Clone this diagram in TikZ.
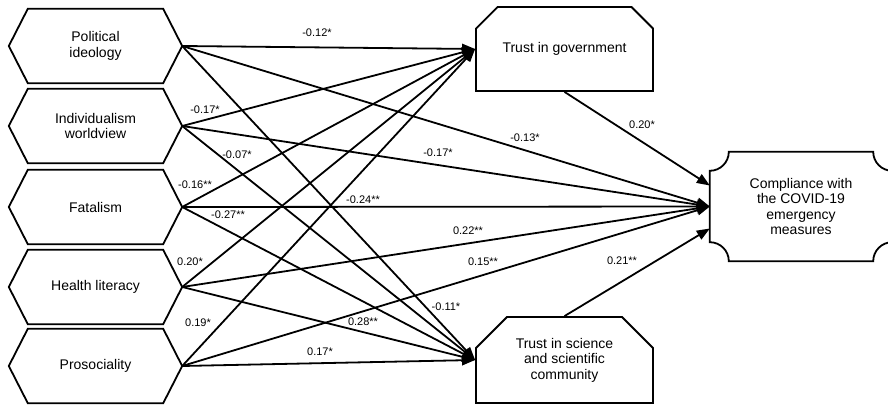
\documentclass[tikz,border=0pt]{standalone}
\usepackage{fontspec}
\setmainfont{Liberation Sans}
\usetikzlibrary{arrows.meta,calc,shapes.misc}
\begin{document}
\begin{tikzpicture}[x=1pt,y=1pt,
  boxfont/.style={font=\fontsize{14}{15.5}\selectfont},
  hexnode/.style={boxfont,minimum width=173pt,minimum height=74pt,inner sep=0pt,align=center},
  hexline/.style={line width=1.8pt,line join=miter},
  trustbox/.style={boxfont,chamfered rectangle,chamfered rectangle corners={north west,north east},
    chamfered rectangle xsep=16pt,chamfered rectangle ysep=15pt,draw,line width=1.8pt,
    minimum width=177pt,inner sep=0pt,align=center},
  plaquenode/.style={boxfont,minimum width=182pt,minimum height=109pt,inner sep=0pt,align=center},
  arr/.style={line width=1.8pt,-{Triangle[length=13pt,width=10pt]}},
  lab/.style={font=\fontsize{11}{12}\selectfont,inner sep=0pt}]
\useasboundingbox (0,0) rectangle (888,404);

% left hexagons
\node[hexnode] (P) at (95.5,358) {Political\\ideology};
\node[hexnode] (I) at (95.5,278) {Individualism\\worldview};
\node[hexnode] (F) at (95.5,197) {Fatalism};
\node[hexnode] (H) at (95.5,117) {Health literacy};
\node[hexnode] (S) at (95.5,38) {Prosociality};
\foreach \n in {P,I,F,H,S}{
  \draw[hexline] (\n.west) -- ($(\n.north west)+(19,0)$) -- ($(\n.north east)+(-19,0)$)
    -- (\n.east) -- ($(\n.south east)+(-19,0)$) -- ($(\n.south west)+(19,0)$) -- cycle;
}

% trust boxes
\node[trustbox,minimum height=84pt] (TG) at (564.5,355) {Trust in government};
\node[trustbox,minimum height=86pt] (TS) at (564.5,44) {Trust in science\\and scientific\\community};

% compliance plaque
\node[plaquenode] (C) at (801,197.5) {Compliance with\\the COVID-19\\emergency\\measures};
\draw[line width=1.8pt]
  ($(C.north west)+(0,-19)$) arc[start angle=-90,end angle=0,radius=19]
  -- ($(C.north east)+(-19,0)$) arc[start angle=180,end angle=270,radius=19]
  -- ($(C.south east)+(0,19)$) arc[start angle=90,end angle=180,radius=19]
  -- ($(C.south west)+(19,0)$) arc[start angle=0,end angle=90,radius=19]
  -- cycle;
\coordinate (Cup) at ($(C.west)+(0,21)$);
\coordinate (Clo) at ($(C.west)+(0,-22)$);

% connectors
\foreach \n in {P,I,F,H,S}{
  \draw[arr] (\n.east) -- (TG.west);
  \draw[arr] (\n.east) -- (TS.west);
  \draw[arr] (\n.east) -- (C.west);
}
\draw[arr] (TG.south) -- (Cup);
\draw[arr] (TS.north) -- (Clo);

% labels
\node[lab] (l1) at (317,371) {-0.12*};
\node[lab] (l2) at (525,266) {-0.13*};
\node[lab] (l3) at (446,97) {-0.11*};
\node[lab] (l4) at (205,294) {-0.17*};
\node[lab] (l5) at (438,251) {-0.17*};
\node[lab] (l6) at (237,249) {-0.07*};
\node[lab] (l7) at (195,219) {-0.16**};
\node[lab] (l8) at (363,204) {-0.24**};
\node[lab] (l9) at (228,189) {-0.27**};
\node[lab] (l10) at (190,142) {0.20*};
\node[lab] (l11) at (468,173) {0.22**};
\node[lab] (l12) at (363,82) {0.28**};
\node[lab] (l13) at (198,81) {0.19*};
\node[lab] (l14) at (483,142) {0.15**};
\node[lab] (l15) at (320,52) {0.17*};
\node[lab] (l16) at (642,279) {0.20*};
\node[lab] (l17) at (622,143) {0.21**};
\end{tikzpicture}
\end{document}
